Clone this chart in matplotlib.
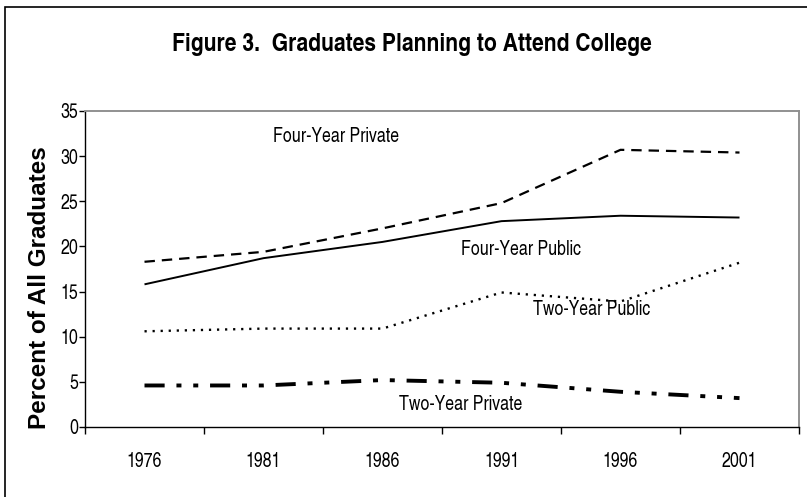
import matplotlib
matplotlib.use("Agg")
import matplotlib.pyplot as plt
from matplotlib.patches import Rectangle

# ---- data ----
years = ["1976", "1981", "1986", "1991", "1996", "2001"]
four_year_private = [18.3, 19.4, 22.0, 24.8, 30.7, 30.4]
four_year_public = [15.8, 18.7, 20.5, 22.8, 23.4, 23.2]
two_year_public = [10.6, 10.9, 10.9, 14.9, 13.9, 18.2]
two_year_private = [4.6, 4.6, 5.2, 4.9, 3.9, 3.2]
y_ticks = [0, 5, 10, 15, 20, 25, 30, 35]

plt.rcParams["font.family"] = ["TeX Gyre Heros Cn", "Liberation Sans", "DejaVu Sans"]
plt.rcParams["lines.scale_dashes"] = False

fig = plt.figure(figsize=(8.07, 4.97), dpi=100)
W, H = 807, 497

# outer chart border (extends beyond the image at right/bottom)
fig.patches.append(Rectangle((5 / W, -0.2), 1.2, 1 - 7 / H + 0.2,
                             transform=fig.transFigure, fill=False,
                             edgecolor="black", linewidth=1.2, clip_on=False))

L, R, T, B = 85, 799, 111, 427
ax = fig.add_axes([L / W, (H - B) / H, (R - L) / W, (B - T) / H])

x = list(range(1, len(years) + 1))
ax.plot(x, four_year_private, color="black", linewidth=1.6, dashes=(7.5, 5))
ax.plot(x, four_year_public, color="black", linewidth=1.4, solid_capstyle="butt")
ax.plot(x, two_year_public, color="black", linewidth=1.7, dashes=(1.6, 4.2))
ax.plot(x, two_year_private, color="black", linewidth=2.8,
        dashes=(14.5, 8.5, 3.6, 8.5, 3.6, 8.5))

ax.set_xlim(0.5, len(years) + 0.5)
ax.set_ylim(0, 35)
ax.set_yticks(y_ticks)
ax.set_yticklabels([str(v) for v in y_ticks], fontsize=14)
ax.set_xticks(x)
ax.set_xticklabels(years, fontsize=14)
ax.set_xticks([i + 0.5 for i in range(0, len(years) + 1)], minor=True)
ax.tick_params(axis="x", which="major", length=0, pad=18)
ax.tick_params(axis="x", which="minor", length=5, width=1, direction="out")
ax.tick_params(axis="y", length=4, width=1, direction="out", pad=1)

for s in ("left", "bottom"):
    ax.spines[s].set_color("black")
    ax.spines[s].set_linewidth(1.0)
for s in ("top", "right"):
    ax.spines[s].set_color("#909090")
    ax.spines[s].set_linewidth(1.4)

fig.text(40 / W, 1 - 288 / H, "Percent of All Graduates",
         family=["Liberation Sans", "DejaVu Sans"], fontsize=17.5, fontweight="bold",
         rotation=90, ha="center", va="center")

lab = dict(fontsize=14, ha="center", va="center")
ax.text(2.61, 32.2, "Four-Year Private", **lab)
ax.text(4.16, 19.7, "Four-Year Public", **lab)
ax.text(4.76, 13.0, "Two-Year Public", **lab)
ax.text(3.66, 2.5, "Two-Year Private", **lab)

fig.text(412 / W, 1 - 45 / H, "Figure 3.  Graduates Planning to Attend College",
         ha="center", va="center", fontsize=18.5, fontweight="bold")

fig.savefig("out.png", dpi=100)
